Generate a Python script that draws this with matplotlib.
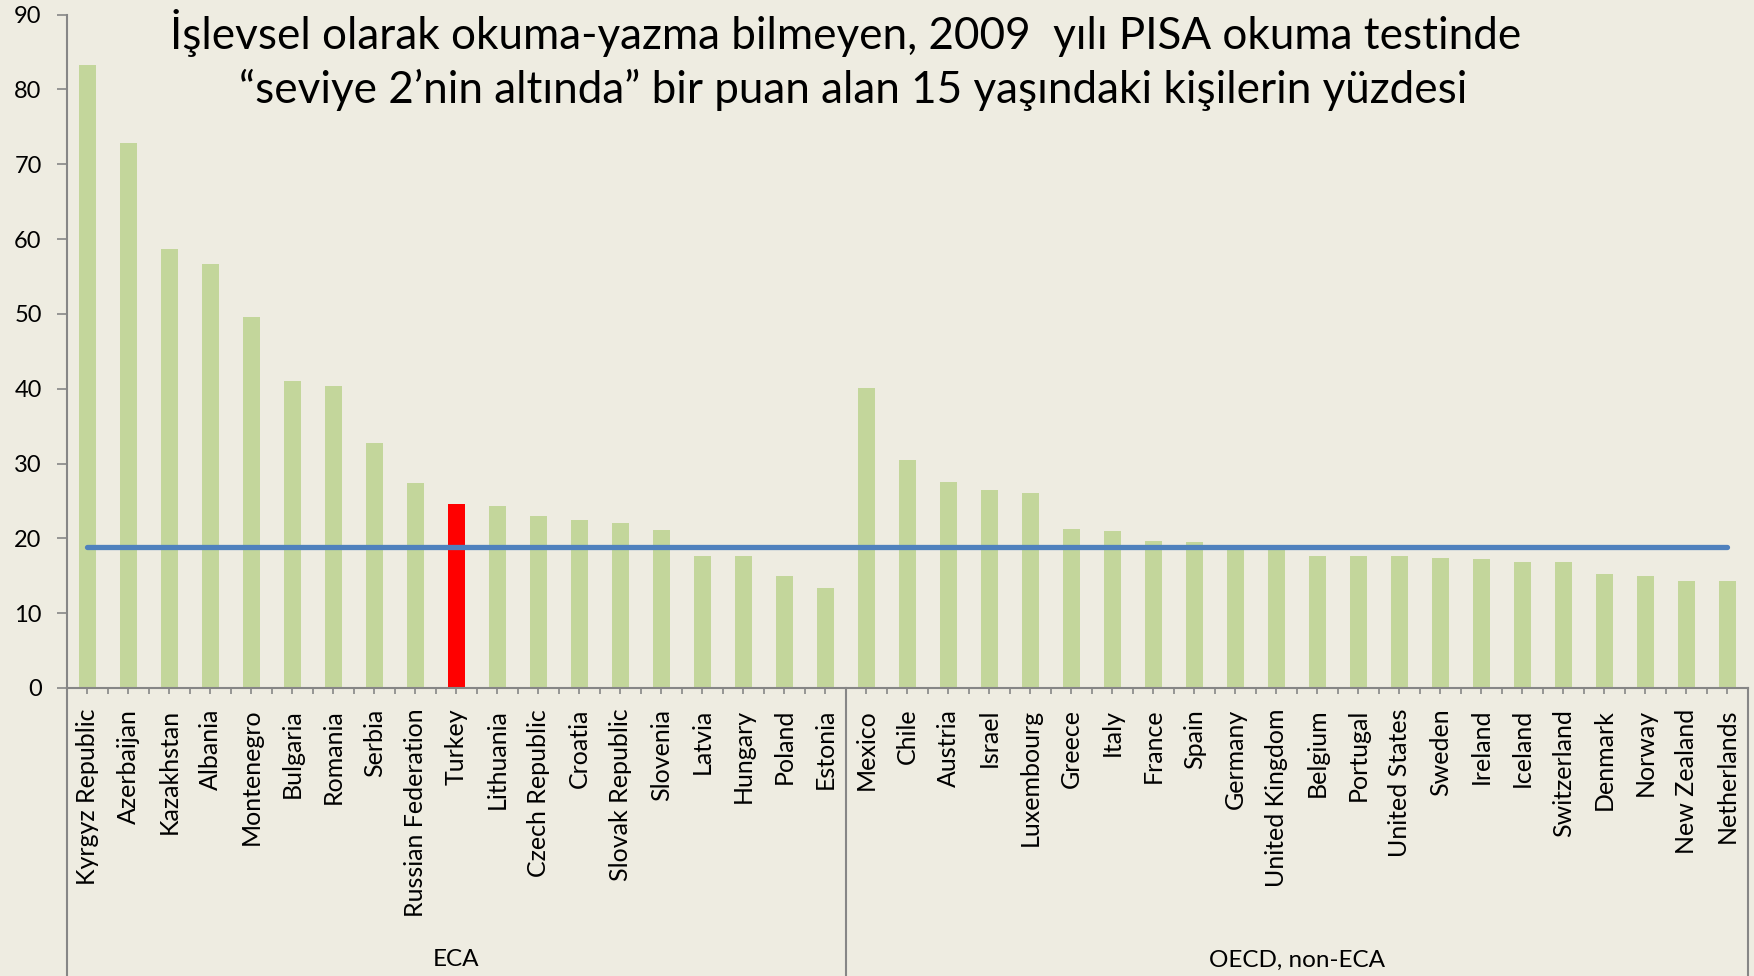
import matplotlib
matplotlib.use("Agg")
import matplotlib.pyplot as plt
import matplotlib.transforms as mtransforms

eca_countries = ["Kyrgyz Republic", "Azerbaijan", "Kazakhstan", "Albania", "Montenegro",
                 "Bulgaria", "Romania", "Serbia", "Russian Federation", "Turkey",
                 "Lithuania", "Czech Republic", "Croatia", "Slovak Republic", "Slovenia",
                 "Latvia", "Hungary", "Poland", "Estonia"]
eca_values = [83.3, 72.8, 58.7, 56.7, 49.6, 41.0, 40.4, 32.8, 27.4, 24.6,
              24.3, 23.0, 22.4, 22.1, 21.1, 17.6, 17.6, 15.0, 13.3]
oecd_countries = ["Mexico", "Chile", "Austria", "Israel", "Luxembourg", "Greece", "Italy",
                  "France", "Spain", "Germany", "United Kingdom", "Belgium", "Portugal",
                  "United States", "Sweden", "Ireland", "Iceland", "Switzerland", "Denmark",
                  "Norway", "New Zealand", "Netherlands"]
oecd_values = [40.1, 30.5, 27.5, 26.5, 26.0, 21.3, 21.0, 19.7, 19.5, 18.5, 18.4, 17.7,
               17.6, 17.6, 17.4, 17.2, 16.8, 16.8, 15.2, 15.0, 14.3, 14.3]
group_labels = ["ECA", "OECD, non-ECA"]
benchmark = 18.8
highlight = "Turkey"
yticks = [0, 10, 20, 30, 40, 50, 60, 70, 80, 90]
title_lines = ["İşlevsel olarak okuma-yazma bilmeyen, 2009  yılı PISA okuma testinde",
               "“seviye 2’nin altında” bir puan alan 15 yaşındaki kişilerin yüzdesi"]

BG = "#EEECE1"
GREEN = "#C3D69B"
RED = "#FF0000"
BLUE = "#4F81BD"
GRAY = "#868686"
FONT = "Lato"

countries = eca_countries + oecd_countries
values = eca_values + oecd_values
n = len(countries)
x = list(range(n))
colors = [RED if c == highlight else GREEN for c in countries]

W, H = 1754, 976
fig = plt.figure(figsize=(W / 100, H / 100), dpi=100, facecolor=BG)
left, right, y0, y90 = 66.7, 1747.7, 688, 14.5
ax = fig.add_axes([left / W, (H - y0) / H, (right - left) / W, (y0 - y90) / H])
ax.set_facecolor(BG)

ax.bar(x, values, width=0.41, color=colors, edgecolor=None, linewidth=0, zorder=2)
ax.plot([x[0], x[-1]], [benchmark, benchmark], color=BLUE, lw=3.8,
        solid_capstyle="round", zorder=3)

ax.set_xlim(-0.5, n - 0.5)
ax.set_ylim(0, 90)
ax.set_yticks(yticks)
ax.set_yticklabels([str(v) for v in yticks], fontfamily=FONT, fontsize=17)
ax.tick_params(axis="y", length=7, width=1.2, color=GRAY, pad=11)

ax.set_xticks(x)
ax.set_xticklabels(countries, rotation=90, fontfamily=FONT, fontsize=18, va="top")
ax.set_xticks([i - 0.5 for i in range(n + 1)], minor=True)
ax.tick_params(axis="x", which="both", length=4, width=1.2, color=GRAY, pad=11)

for s in ["top", "right"]:
    ax.spines[s].set_visible(False)
for s in ["left", "bottom"]:
    ax.spines[s].set_color(GRAY)
    ax.spines[s].set_linewidth(1.5)

# group separators and labels
trans = mtransforms.blended_transform_factory(ax.transData, ax.transAxes)
ybot = -(H - y0) / (y0 - y90)
for b in [-0.5, len(eca_countries) - 0.5, n - 0.5]:
    ax.plot([b, b], [0, ybot], transform=trans, color=GRAY, lw=1.5, clip_on=False)
gx = [(len(eca_countries) - 1) / 2, len(eca_countries) + (len(oecd_countries) - 1) / 2]
for lab, cx in zip(group_labels, gx):
    ax.text(cx, -(960 - y0) / (y0 - y90), lab, transform=trans, ha="center", va="center",
            fontfamily=FONT, fontsize=17.5)

fig.text(846 / W, 1 - 33 / H, title_lines[0], ha="center", va="center",
         fontfamily=FONT, fontsize=31.7)
fig.text(853 / W, 1 - 90 / H, title_lines[1], ha="center", va="center",
         fontfamily=FONT, fontsize=31.7)

fig.savefig("out.png", dpi=100, facecolor=BG)
